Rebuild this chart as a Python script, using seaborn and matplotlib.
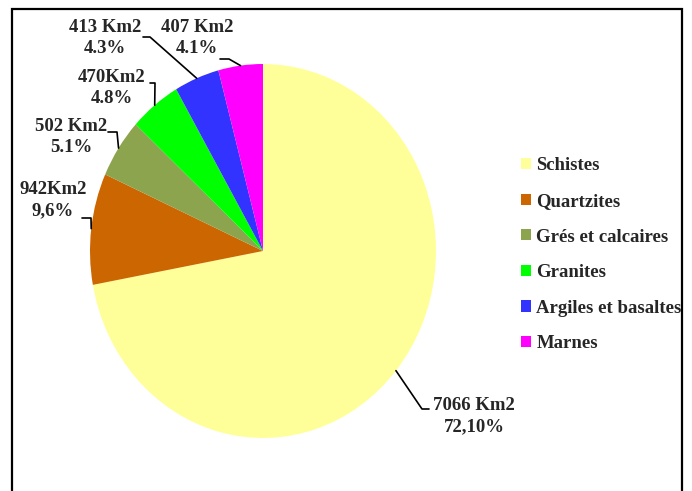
import numpy as np
import matplotlib.pyplot as plt
import seaborn as sns
from matplotlib.lines import Line2D
from matplotlib.patches import Rectangle

# données : surfaces par type de roche
categories = ['Schistes', 'Quartzites', 'Grés et calcaires', 'Granites',
              'Argiles et basaltes', 'Marnes']
surfaces = [7066, 942, 502, 470, 413, 407]
labels = ['7066 Km2\n72,10%', '942Km2\n9,6%', '502 Km2\n5.1%',
          '470Km2\n4.8%', '413 Km2\n4.3%', '407 Km2\n4.1%']
colors = ['#FFFF99', '#CC6600', '#8DA44E', '#00FF00', '#3333FF', '#FF00FF']

sns.set_theme(style='white')
plt.rcParams['font.family'] = ['Liberation Serif', 'DejaVu Serif']
plt.rcParams['font.weight'] = 'bold'

W, H = 692, 491
fig = plt.figure(figsize=(W / 100, H / 100), dpi=100)

# axe du camembert (légèrement ovale comme l'original)
cx, cy, rx, ry = 263, 240, 173, 187
ax = fig.add_axes([(cx - rx) / W, (cy - ry) / H, 2 * rx / W, 2 * ry / H])
palette = sns.color_palette(colors)
wedges, _ = ax.pie(surfaces, colors=palette, startangle=90, counterclock=False,
                   radius=1, wedgeprops=dict(linewidth=0))
ax.set_aspect('auto')
ax.set_xlim(-1, 1)
ax.set_ylim(-1, 1)
ax.axis('off')

# positions des étiquettes (pixels figure, origine en bas) et coude du trait
label_pos = [(474, 75), (53, 291), (71, 354), (112, 403), (105, 453), (197, 453)]
elbows = [[(429, 82), (422, 82)],
          [(82, 273), (91, 273)],
          [(108, 359), (117, 359)],
          [(150, 408), (155, 408)],
          [(143, 454), (150, 454)],
          [(220, 432), (229, 432)]]

fig.canvas.draw()
for w, lab, pos, elb in zip(wedges, labels, label_pos, elbows):
    ang = np.deg2rad((w.theta1 + w.theta2) / 2)
    px, py = ax.transData.transform((np.cos(ang), np.sin(ang)))
    xs = [p[0] for p in elb] + [px]
    ys = [p[1] for p in elb] + [py]
    fig.add_artist(Line2D(xs, ys, color='black', lw=1.2, transform=None))
    fig.text(pos[0] / W, pos[1] / H, lab, ha='center', va='center',
             fontsize=13.5, fontweight='bold', linespacing=1.3)

leg = fig.legend(wedges, categories, loc='upper left',
                 bbox_to_anchor=(512 / W, 1 - 148 / H), frameon=False,
                 fontsize=13.5, handlelength=0.53, handleheight=0.53,
                 handletextpad=0.27, labelspacing=0.99, borderpad=0)
for t in leg.get_texts():
    t.set_fontweight('bold')

# cadre
fig.patches.append(Rectangle((12, -10), 670, 492, transform=None,
                             fill=False, edgecolor='black', lw=1.6))

fig.savefig('out.png', dpi=100)
